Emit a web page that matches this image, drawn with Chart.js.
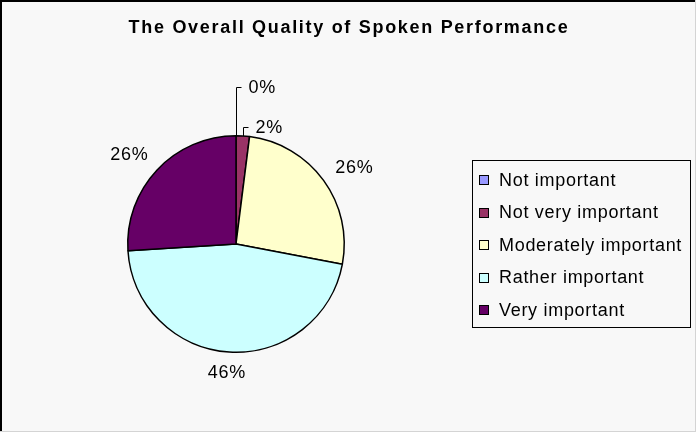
<!DOCTYPE html>
<html lang="en">
<head>
    <meta charset="UTF-8">
    <title>The Overall Quality of Spoken Performance</title>
    <script src="https://cdn.jsdelivr.net/npm/chart.js"></script>
    <style>
        body { margin: 0; background: #f8f8f8; }
    </style>
</head>
<body>
    <canvas id="myChart" width="696" height="432"></canvas>

    <script>
        var chartTitle = 'The Overall Quality of Spoken Performance';
        var categories = ['Not important', 'Not very important', 'Moderately important',
                          'Rather important', 'Very important'];
        var percents = [0, 2, 26, 46, 26];
        var sliceColors = ['#9999FF', '#993366', '#FFFFCC', '#CCFFFF', '#660066'];

        var fontFamily = '"Liberation Sans", Arial, sans-serif';
        var labelFont = '18px ' + fontFamily;

        // background, frame and title
        var framePlugin = {
            id: 'frame',
            beforeDraw: function(chart) {
                var c = chart.ctx;
                c.save();
                c.fillStyle = '#f8f8f8';
                c.fillRect(0, 0, chart.width, chart.height);
                c.fillStyle = '#000';
                c.fillRect(0, 0, chart.width, 2);
                c.fillRect(0, 0, 2, chart.height);
                c.fillStyle = '#d4d4d4';
                c.fillRect(chart.width - 1, 0, 1, chart.height);
                c.fillRect(0, chart.height - 1, chart.width, 1);
                c.font = 'bold 18px ' + fontFamily;
                c.letterSpacing = '1.7px';
                c.fillStyle = '#000';
                c.textAlign = 'center';
                c.textBaseline = 'middle';
                c.fillText(chartTitle, 349, 28);
                c.restore();
            }
        };

        // percentage labels outside the pie, small slices get a leader line
        var outsideLabels = {
            id: 'outsideLabels',
            afterDatasetsDraw: function(chart, args, opts) {
                var c = chart.ctx;
                var meta = chart.getDatasetMeta(0);
                c.save();
                c.font = labelFont;
                c.letterSpacing = '0.7px';
                c.fillStyle = '#000';
                c.strokeStyle = '#000';
                c.lineWidth = 1;
                c.textBaseline = 'middle';
                meta.data.forEach(function(arc, i) {
                    var txt = percents[i] + '%';
                    var mid = (arc.startAngle + arc.endAngle) / 2;
                    var r = arc.outerRadius;
                    var cos = Math.cos(mid), sin = Math.sin(mid);
                    var lift = opts.leaderLift[i];
                    if (lift) {
                        var ax = Math.round(arc.x + r * cos) + 0.5;
                        var ay = arc.y + r * sin;
                        var ty = Math.round(ay - lift) + 0.5;
                        c.beginPath();
                        c.moveTo(ax, ay);
                        c.lineTo(ax, ty);
                        c.lineTo(ax + 5, ty);
                        c.stroke();
                        c.textAlign = 'left';
                        c.fillText(txt, ax + 12, ty + 1);
                        return;
                    }
                    // push the text box out separately along x and y
                    var w = c.measureText(txt).width;
                    var x = arc.x + cos * (r + opts.gap + w / 2 + 6);
                    var y = arc.y + sin * (r + opts.gap + 8);
                    c.textAlign = 'center';
                    c.fillText(txt, x, y);
                });
                c.restore();
            }
        };

        // boxed legend on the right
        var boxLegend = {
            id: 'boxLegend',
            afterDraw: function(chart, args, opts) {
                var c = chart.ctx;
                var ds = chart.data.datasets[0];
                c.save();
                c.strokeStyle = '#000';
                c.lineWidth = 1;
                c.strokeRect(opts.x + 0.5, opts.y + 0.5, opts.w, opts.h);
                c.font = labelFont;
                c.letterSpacing = '0.7px';
                c.textBaseline = 'middle';
                c.textAlign = 'left';
                chart.data.labels.forEach(function(lbl, i) {
                    var cy = opts.y + 20 + i * 32.5;
                    c.fillStyle = ds.backgroundColor[i];
                    c.fillRect(opts.x + 7, Math.round(cy - 5), 10, 10);
                    c.strokeRect(opts.x + 7.5, Math.round(cy - 5) + 0.5, 9, 9);
                    c.fillStyle = '#000';
                    c.fillText(lbl, opts.x + 27, cy + 1);
                });
                c.restore();
            }
        };

        const ctx = document.getElementById('myChart');

        var myChart = new Chart(ctx, {
            type: 'pie',
            data: {
                labels: categories,
                datasets: [{
                    data: percents,
                    backgroundColor: sliceColors,
                    borderColor: '#000',
                    borderWidth: 1.5
                }]
            },
            options: {
                responsive: false,
                animation: false,
                layout: {
                    padding: { left: 127, right: 351, top: 135, bottom: 79 }
                },
                plugins: {
                    legend: { display: false },
                    tooltip: { enabled: false },
                    title: { display: false },
                    outsideLabels: { gap: 13, leaderLift: [49, 9, 0, 0, 0] },
                    boxLegend: { x: 472, y: 160, w: 218, h: 167 }
                }
            },
            plugins: [framePlugin, outsideLabels, boxLegend]
        });
    </script>
</body>
</html>
